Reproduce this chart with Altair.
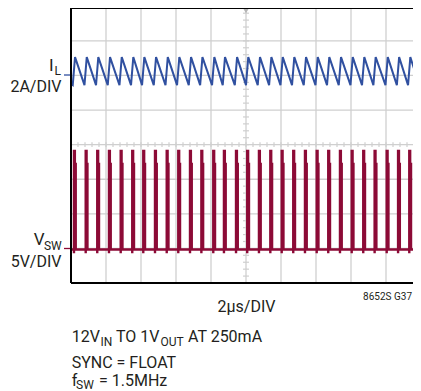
import altair as alt
import pandas as pd
import numpy as np

# ---- values (x in µs, 2µs/DIV; y in divisions from bottom) ----
pulse_us = [0.17, 0.84, 1.50, 2.17, 2.84, 3.50, 4.13, 4.80, 5.47, 6.13, 6.80,
            7.45, 8.13, 8.74, 9.43, 10.07, 10.74, 11.39, 12.04, 12.70, 13.37,
            14.04, 14.70, 15.37, 16.04, 16.70, 17.35, 18.04, 18.69, 19.33, 19.97]
il_peak_div = 6.53
il_trough_div = 5.72
il_start_div = 5.76
vsw_base_div = 0.97
vsw_top_div = 3.82
vsw_step_div = 3.44
vsw_under_div = 0.86
x_grid_us = [2, 4, 6, 8, 10, 12, 14, 16, 18]
y_grid_div = [1, 2, 3, 4, 5, 6, 7]

FONT = "Roboto"
TXT = "#231f20"
BLUE = "#3050a0"
RED = "#8c0a36"
GRID = "#cfcfcf"

PW = 342  # visible plot width in px (17.5 px per µs)
PH = 275
xs = alt.Scale(domain=[0, PW / 17.5], nice=False, zero=False)
ys = alt.Scale(domain=[0, 7.95], nice=False, zero=False)

# ---- inductor current trace ----
il_t, il_v = [0.0], [il_start_div]
for p in pulse_us:
    il_t += [p - 0.07, p + 0.06]
    il_v += [il_trough_div, il_peak_div]
il_df = pd.DataFrame({"t": il_t, "v": il_v, "o": range(len(il_t))})

# ---- switch node trace ----
sw_t, sw_v = [0.0], [vsw_base_div]
for p in pulse_us:
    sw_t += [p, p, p, p + 0.05, p + 0.05, p + 0.1, p + 0.1]
    sw_v += [vsw_base_div, vsw_under_div, vsw_top_div, vsw_top_div,
             vsw_step_div, vsw_step_div, vsw_base_div]
sw_t.append(20.0)
sw_v.append(vsw_base_div)
sw_df = pd.DataFrame({"t": sw_t, "v": sw_v, "o": range(len(sw_t))})

one = pd.DataFrame({"a": [0]})

gx = alt.Chart(pd.DataFrame({"t": x_grid_us})).mark_rule(color=GRID, strokeWidth=1.3).encode(
    x=alt.X("t:Q", scale=xs, axis=None))
gy = alt.Chart(pd.DataFrame({"d": y_grid_div})).mark_rule(color=GRID, strokeWidth=1.3).encode(
    y=alt.Y("d:Q", scale=ys, axis=None))

# minor ticks on centre lines
hx = np.arange(0.4, 19.6, 0.4)
htick = alt.Chart(pd.DataFrame({"t": hx, "y1": 4 - 0.07, "y2": 4 + 0.07})).mark_rule(
    color=GRID, strokeWidth=1.2).encode(
    x=alt.X("t:Q", scale=xs, axis=None), y=alt.Y("y1:Q", scale=ys, axis=None), y2="y2:Q")
vy = np.arange(0.2, 7.95, 0.2)
vtick = alt.Chart(pd.DataFrame({"d": vy, "x1": 10 - 0.17, "x2": 10 + 0.17})).mark_rule(
    color=GRID, strokeWidth=1.2).encode(
    y=alt.Y("d:Q", scale=ys, axis=None), x=alt.X("x1:Q", scale=xs, axis=None), x2="x2:Q")
trig = alt.Chart(pd.DataFrame({"t": [10], "d": [7.86]})).mark_point(
    shape="triangle-down", filled=True, color="#b5b5b5", size=25, opacity=1).encode(
    x=alt.X("t:Q", scale=xs, axis=None), y=alt.Y("d:Q", scale=ys, axis=None))

il = alt.Chart(il_df).mark_line(color=BLUE, strokeWidth=2, clip=True).encode(
    x=alt.X("t:Q", scale=xs, axis=None), y=alt.Y("v:Q", scale=ys, axis=None), order="o:Q")
sw = alt.Chart(sw_df).mark_line(color=RED, strokeWidth=2.4, clip=True, strokeJoin="miter").encode(
    x=alt.X("t:Q", scale=xs, axis=None), y=alt.Y("v:Q", scale=ys, axis=None), order="o:Q")

# frame (left, top, bottom)
frame_left = alt.Chart(one).mark_rule(color="black", strokeWidth=2).encode(
    x=alt.value(0), y=alt.value(0), y2=alt.value(PH))
frame_top = alt.Chart(one).mark_rule(color="black", strokeWidth=2).encode(
    x=alt.value(0), x2=alt.value(PW), y=alt.value(0))
frame_bot = alt.Chart(one).mark_rule(color="black", strokeWidth=2).encode(
    x=alt.value(0), x2=alt.value(PW), y=alt.value(PH))

mk_il = alt.Chart(one).mark_rule(color=BLUE, strokeWidth=1.3).encode(
    x=alt.value(-7), x2=alt.value(-1), y=alt.value(67))
mk_sw = alt.Chart(one).mark_rule(color=RED, strokeWidth=1.3).encode(
    x=alt.value(-7), x2=alt.value(-1), y=alt.value(240.5))


def label(text, x, y, size, align="left"):
    return alt.Chart(one).mark_text(
        text=text, font=FONT, fontSize=size, color=TXT, align=align,
        baseline="alphabetic").encode(x=alt.value(x), y=alt.value(y))


texts = [
    label("I", -17.5, 63, 17, "right"),
    label("L", -10, 66.5, 12, "right"),
    label("2A/DIV", -9.5, 84, 16, "right"),
    label("V", -26.5, 237, 17, "right"),
    label("SW", -9.3, 241.5, 12, "right"),
    label("5V/DIV", -9.5, 259, 16, "right"),
    label("2µs/DIV", 175.5, 304, 16, "center"),
    label("8652S G37", PW - 1, 292, 10, "right"),
    label("12V", 0.7, 334, 16),
    label("IN", 29.5, 337.5, 12),
    label("TO 1V", 45, 334, 16),
    label("OUT", 89.5, 337.5, 12),
    label("AT 250mA", 117, 334, 16),
    label("SYNC = FLOAT", 0.7, 359.5, 16),
    label("f", 0.7, 378, 16),
    label("SW", 5, 380.5, 12),
    label("= 1.5MHz", 28, 378, 16),
]

chart = alt.layer(
    gx, gy, htick, vtick, trig, sw, il, frame_left, frame_top, frame_bot, mk_il, mk_sw, *texts
).properties(
    width=PW, height=PH, autosize="none",
    padding={"left": 63, "top": 0, "right": 0, "bottom": 108},
).configure_view(stroke="transparent")

chart.save("out.html", embed_options={"renderer": "svg", "actions": False})
